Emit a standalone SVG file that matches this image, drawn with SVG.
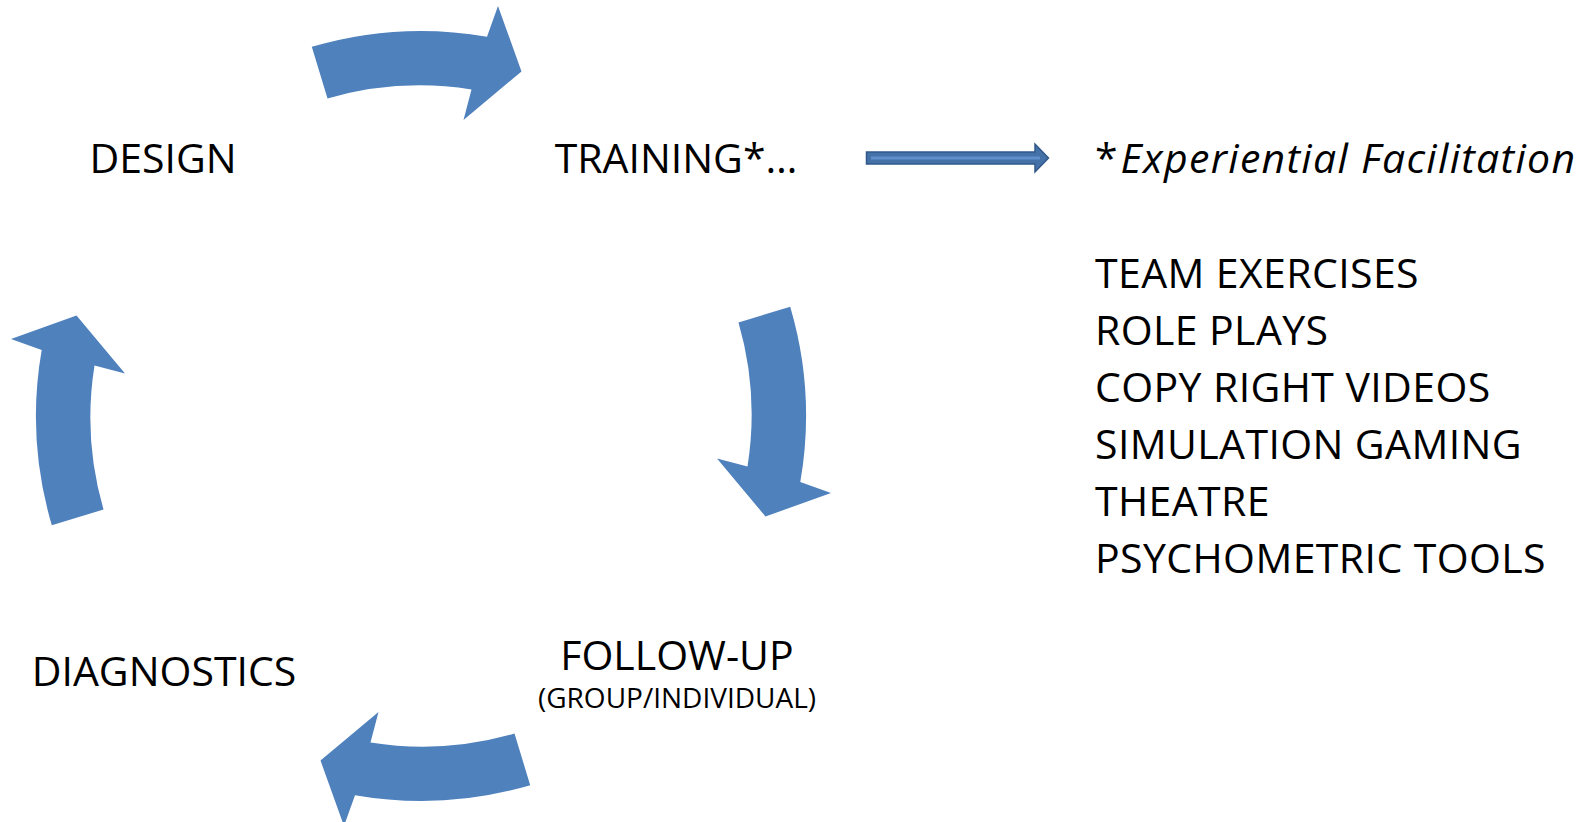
<svg xmlns="http://www.w3.org/2000/svg" xmlns:xlink="http://www.w3.org/1999/xlink" width="1583" height="822" viewBox="0 0 1583 822">
<style>
.ring{fill:#4F81BD;stroke:none}
.lbl{font-family:"Open Sans","Noto Sans","Liberation Sans",sans-serif;font-size:41px;fill:#000}
.lst{letter-spacing:0.4px}
.sub{font-family:"Open Sans","Noto Sans","Liberation Sans",sans-serif;font-size:28px;fill:#000}
.it{font-style:italic;letter-spacing:1.3px}
</style>
<defs>
<path id="ringArrow" d="M311.8,46.8 A385,385 0 0 1 487,36.7 L498,6 L521.5,71.5 L463.5,120 L471.5,89.5 A330.5,330.5 0 0 0 327.5,98.5 Z"/>
</defs>
<rect width="1583" height="822" fill="#fff"/>
<g id="connectors">
<use xlink:href="#ringArrow" href="#ringArrow" class="ring"/>
<use xlink:href="#ringArrow" href="#ringArrow" class="ring" transform="rotate(90 421 416)"/>
<use xlink:href="#ringArrow" href="#ringArrow" class="ring" transform="rotate(180 421 416)"/>
<use xlink:href="#ringArrow" href="#ringArrow" class="ring" transform="rotate(270 421 416)"/>
<g id="small-arrow">
<path d="M866.5,152 L1035,152 L1035,144 L1048.5,158 L1035,172 L1035,164 L866.5,164 Z" fill="#4471A8" stroke="#30598A" stroke-width="1.5"/>
<line x1="871" y1="158" x2="1040" y2="158" stroke="#5E8FCB" stroke-width="3"/>
</g>
</g>
<g id="node-design"><text class="lbl" x="163" y="173" text-anchor="middle">DESIGN</text></g>
<g id="node-training"><text class="lbl" x="676" y="173" text-anchor="middle">TRAINING*…</text></g>
<g id="node-followup">
<text class="lbl" x="677" y="670" text-anchor="middle">FOLLOW-UP</text>
<text class="sub" x="677" y="708" text-anchor="middle">(GROUP/INDIVIDUAL)</text>
</g>
<g id="node-diagnostics"><text class="lbl" x="164" y="686" text-anchor="middle">DIAGNOSTICS</text></g>
<g id="node-facilitation">
<text class="lbl" x="1095" y="173">*<tspan class="it" dx="3">Experiential Facilitation</tspan></text>
<text class="lbl lst" x="1095" y="288">TEAM EXERCISES</text>
<text class="lbl lst" x="1095" y="345">ROLE PLAYS</text>
<text class="lbl lst" x="1095" y="402">COPY RIGHT VIDEOS</text>
<text class="lbl lst" x="1095" y="459">SIMULATION GAMING</text>
<text class="lbl lst" x="1095" y="516">THEATRE</text>
<text class="lbl lst" x="1095" y="573">PSYCHOMETRIC TOOLS</text>
</g>
</svg>
